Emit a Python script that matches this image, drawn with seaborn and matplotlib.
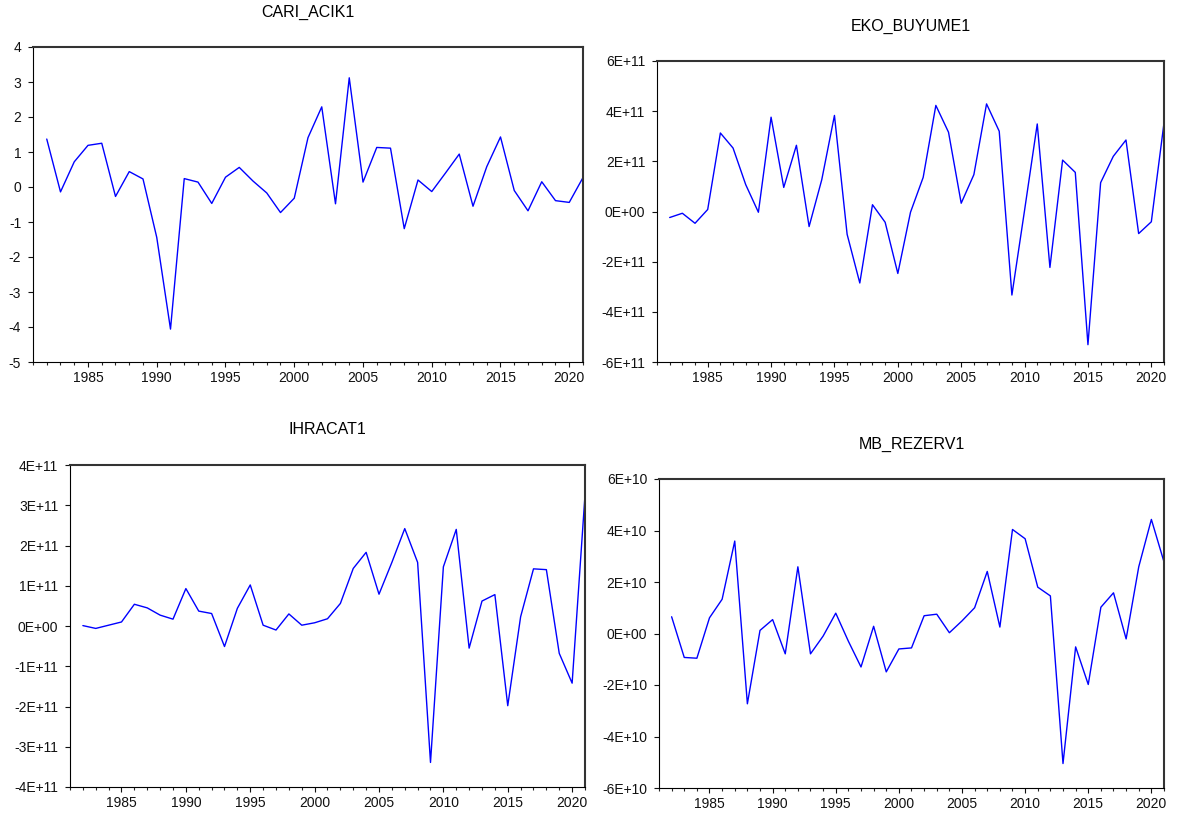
import matplotlib
matplotlib.use("Agg")
import matplotlib.pyplot as plt
import matplotlib.ticker as mticker
import seaborn as sns
import numpy as np
import pandas as pd

years = list(range(1982, 2022))

cari_acik1 = [1.37, -0.14, 0.72, 1.19, 1.25, -0.27, 0.44, 0.23, -1.44, -4.06,
              0.24, 0.14, -0.47, 0.28, 0.56, 0.17, -0.17, -0.73, -0.32, 1.41,
              2.29, -0.48, 3.12, 0.14, 1.13, 1.11, -1.19, 0.20, -0.13, 0.40,
              0.94, -0.55, 0.58, 1.43, -0.10, -0.68, 0.15, -0.39, -0.44, 0.27]

# in units of 1E+11
eko_buyume1 = [-0.24, -0.07, -0.47, 0.08, 3.13, 2.53, 1.07, -0.03, 3.76, 0.96,
               2.64, -0.60, 1.27, 3.83, -0.91, -2.85, 0.27, -0.43, -2.47, -0.03,
               1.36, 4.23, 3.16, 0.33, 1.47, 4.29, 3.20, -3.33, 0.05, 3.49,
               -2.23, 2.05, 1.56, -5.31, 1.15, 2.20, 2.85, -0.88, -0.41, 3.53]

# in units of 1E+11
ihracat1 = [0.01, -0.06, 0.02, 0.10, 0.54, 0.45, 0.27, 0.17, 0.93, 0.37,
            0.31, -0.51, 0.44, 1.02, 0.02, -0.10, 0.30, 0.02, 0.08, 0.18,
            0.56, 1.43, 1.83, 0.79, 1.58, 2.42, 1.58, -3.39, 1.47, 2.40,
            -0.55, 0.62, 0.78, -1.98, 0.23, 1.42, 1.40, -0.68, -1.42, 3.25]

# in units of 1E+10
mb_rezerv1 = [0.65, -0.93, -0.96, 0.61, 1.33, 3.59, -2.73, 0.12, 0.54, -0.79,
              2.59, -0.79, -0.10, 0.79, -0.30, -1.30, 0.28, -1.49, -0.60, -0.56,
              0.69, 0.75, 0.03, 0.49, 1.00, 2.41, 0.25, 4.04, 3.68, 1.80,
              1.46, -5.05, -0.52, -1.98, 1.02, 1.58, -0.21, 2.59, 4.43, 2.78]

df = pd.DataFrame({
    "year": years,
    "CARI_ACIK1": cari_acik1,
    "EKO_BUYUME1": np.array(eko_buyume1) * 1e11,
    "IHRACAT1": np.array(ihracat1) * 1e11,
    "MB_REZERV1": np.array(mb_rezerv1) * 1e10,
})

sns.set_style("ticks")
plt.rcParams['font.family'] = ['Liberation Sans', 'DejaVu Sans']

W, H = 1185, 817
fig = plt.figure(figsize=(W / 100, H / 100), dpi=100)


def px_axes(left, right, top, bottom):
    return fig.add_axes([left / W, 1 - bottom / H, (right - left) / W, (bottom - top) / H])


panels = [
    ("CARI_ACIK1", (33, 583, 47, 362), (-5, 4), np.arange(-5, 5, 1), "int"),
    ("EKO_BUYUME1", (657, 1164, 61, 362), (-6e11, 6e11), np.arange(-6e11, 6.1e11, 2e11), "sci"),
    ("IHRACAT1", (70, 585, 465, 787), (-4e11, 4e11), np.arange(-4e11, 4.1e11, 1e11), "sci"),
    ("MB_REZERV1", (659, 1164, 479, 788), (-6e10, 6e10), np.arange(-6e10, 6.1e10, 2e10), "sci"),
]

for name, box, ylim, yticks, fmt in panels:
    ax = px_axes(*box)
    sns.lineplot(data=df, x="year", y=name, ax=ax, color="#0000ff", linewidth=1.0)
    ax.set_xlim(1981, 2021)
    ax.set_ylim(*ylim)
    ax.set_xticks(range(1985, 2021, 5))
    ax.xaxis.set_minor_locator(mticker.FixedLocator(range(1981, 2022)))
    ax.set_yticks(yticks)
    if fmt == "sci":
        ax.yaxis.set_major_formatter(mticker.FuncFormatter(lambda v, p: f"{v:.0E}"))
    else:
        ax.yaxis.set_major_formatter(mticker.FuncFormatter(lambda v, p: f"{int(round(v))}"))
    ax.set_xlabel("")
    ax.set_ylabel("")
    ax.set_title(name, fontsize=11.5, pad=22, color="black")
    ax.tick_params(axis="both", which="major", direction="out", length=3.5, width=0.8,
                   labelsize=10, colors="#111111")
    ax.tick_params(axis="y", which="major", pad=5)
    ax.tick_params(axis="x", which="major", pad=3)
    ax.tick_params(axis="x", which="minor", direction="out", length=2, width=0.8)
    for side in ("left", "bottom"):
        ax.spines[side].set_visible(True)
        ax.spines[side].set_linewidth(0.8)
        ax.spines[side].set_color("black")
    for side in ("top", "right"):
        ax.spines[side].set_visible(True)
        ax.spines[side].set_linewidth(1.5)
        ax.spines[side].set_color("#333333")

fig.savefig("out.png", dpi=100)
